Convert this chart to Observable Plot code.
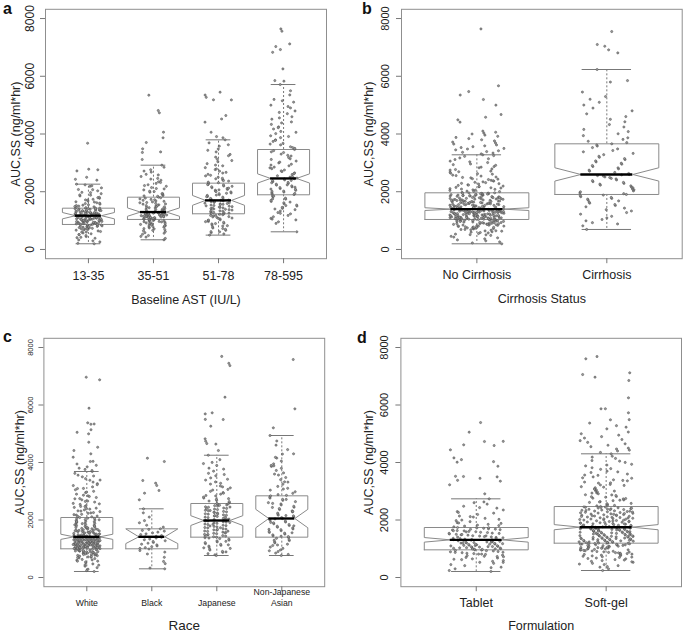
<!DOCTYPE html>
<html><head><meta charset="utf-8">
<script src="https://cdn.jsdelivr.net/npm/d3@7"></script>
<script src="https://cdn.jsdelivr.net/npm/@observablehq/plot@0.6"></script>
<style>
body{margin:0;background:#fff;}
#wrap{position:relative;width:685px;height:635px;font-family:"Liberation Sans",Arial,sans-serif;overflow:hidden;}
.panel{position:absolute;}
.tag{position:absolute;font-weight:bold;font-size:16px;line-height:16px;color:#111;}
</style></head><body><div id="wrap"></div>
<script>
// ---------- shared ----------
const yTicks = [0, 2000, 4000, 6000, 8000];
const yTitle = "AUC,SS (ng/ml*hr)";

// ---------- panel a : Baseline AST ----------
const astGroups = ["13-35", "35-51", "51-78", "78-595"];
const astQ1 = [866, 1040, 1236, 1894];
const astMed = [1170, 1295, 1700, 2460];
const astQ3 = [1430, 1811, 2297, 3463];
const astLo = [197, 335, 497, 612];
const astHi = [2262, 2920, 3798, 5714];
const astNotchLo = [1060, 1150, 1530, 2300];
const astNotchHi = [1280, 1440, 1870, 2620];
const ast13 = [197,214,262,298,331,388,421,447,482,518,543,571,598,622,641,667,688,703,714,731,746,758,772,786,799,812,824,836,846,857,866,
879,886,894,906,913,921,931,938,951,956,964,977,984,992,1001,1009,1021,1028,1036,1044,1056,1063,1074,1081,1089,1102,1108,1121,1128,1141,1149,1158,1166,
1172,1186,1193,1201,1209,1221,1228,1242,1246,1256,1263,1277,1284,1296,1303,1316,1323,1337,1344,1356,1363,1377,1384,1401,1408,1421,1430,
1446,1462,1478,1503,1522,1547,1568,1603,1618,1652,1677,1712,1738,1772,1807,1853,1888,1932,1978,2031,2077,2133,2186,2238,2262,2400,2430,2500,2720,2760,2780,3680,
408,512,603,671,734,781,818,849,873,897,918,937,957,973,994,1013,1032,1049,1068,1086,1103,1124,1139,1157,1178,1194,1212,1233,1251,1268,1288,1307,1327,1346,1368,1389,1412,1433,1488,1534,1589,1643,1716,1794,1879,1967,2071,2204];
const ast35 = [335,382,428,483,527,582,618,663,688,722,748,783,797,826,843,867,884,907,918,942,953,972,984,1002,1013,1031,
1043,1056,1064,1081,1088,1102,1109,1122,1128,1141,1149,1162,1168,1181,1189,1202,1208,1221,1229,1242,1248,1261,1269,1282,1289,
1302,1318,1342,1358,1382,1398,1422,1438,1462,1478,1502,1518,1547,1568,1597,1618,1647,1668,1702,1723,1752,1778,1811,
1842,1868,1903,1938,1983,2018,2062,2098,2143,2188,2242,2288,2343,2398,2462,2528,2603,2678,2762,2848,2920,3117,3360,3380,3487,3705,3868,4062,4734,4814,5344,
452,561,648,714,772,815,856,893,926,962,994,1027,1058,1076,1096,1114,1133,1152,1171,1194,1213,1234,1256,1277,1296,1331,1366,1409,1446,1488,1531,1577,1627,1681,1733,1791,1857,1926,2007,2111,2213,2319,2437,2581,2716];
const ast51 = [497,538,583,618,663,698,743,778,823,848,883,908,943,968,1003,1028,1063,1088,1113,1138,1163,1178,1203,1218,
1242,1258,1283,1298,1323,1338,1363,1378,1403,1418,1443,1458,1483,1498,1523,1538,1563,1578,1603,1618,1643,1658,1683,
1702,1718,1753,1778,1813,1838,1873,1898,1933,1958,1993,2018,2053,2078,2113,2138,2173,2198,2233,2258,2297,
2332,2368,2412,2448,2503,2548,2603,2648,2712,2768,2833,2898,2972,3038,3122,3198,3292,3378,3482,3578,3692,3798,3870,3910,4060,4410,4520,4640,5180,5185,5270,5350,5448,
612,724,812,897,962,1021,1079,1127,1186,1232,1271,1312,1351,1392,1433,1471,1512,1553,1591,1632,1671,1712,1766,1826,1884,1946,2007,2066,2124,2187,2246,2312,2387,2467,2569,2671,2789,2922,3081,3247,3436,3627];
const ast78 = [612,903,958,1023,1078,1133,1178,1233,1278,1333,1378,1423,1458,1503,1538,1583,1618,1663,1698,1743,1778,1823,1858,
1902,1928,1963,1988,2023,2048,2083,2108,2143,2168,2203,2228,2263,2288,2323,2348,2383,2408,2443,
2472,2508,2553,2598,2653,2698,2753,2798,2853,2898,2953,2998,3063,3118,3183,3238,3303,3358,3423,3463,
3502,3558,3623,3678,3743,3798,3873,3938,4013,4088,4173,4248,4333,4418,4513,4598,4703,4798,4903,4998,5103,5198,5353,5498,5714,5830,5850,6255,6830,6925,7030,7120,7560,7640,
1051,1252,1402,1521,1641,1752,1848,1941,2012,2092,2156,2237,2311,2392,2451,2527,2627,2721,2827,2923,3026,3141,3262,3381,3527,3651,3779,3914,4058,4218,4383,4557,4747,4952,5151];
const astSeries = [ast13, ast35, ast51, ast78];

// ---------- panel b : Cirrhosis ----------
const cirGroups = ["No Cirrhosis", "Cirrhosis"];
const cirQ1 = [1039, 1905];
const cirMed = [1397, 2597];
const cirQ3 = [1963, 3660];
const cirLo = [196, 693];
const cirHi = [3279, 6234];
const cirNotchLo = [1350, 2370];
const cirNotchHi = [1445, 2830];
const cirNo = [196,225,262,298,331,368,402,428,455,487,506,531,552,574,598,611,633,648,667,679,694,712,721,733,748,754,767,779,786,797,806,818,823,836,845,853,864,869,877,888,893,904,911,917,928,933,941,952,957,966,973,984,989,997,1005,1012,1019,1027,1033,1038,
1043,1049,1052,1061,1066,1070,1079,1083,1091,1095,1101,1109,1113,1121,1126,1131,1139,1144,1151,1155,1163,1168,1172,1181,1186,1193,1197,1204,1211,1216,1223,1227,1235,1241,1246,1253,1258,1264,1271,1275,1283,1288,1294,1301,1305,1313,1318,1325,1331,1336,1342,1349,1354,1361,1367,1372,1378,1385,1390,1396,
1405,1412,1421,1430,1438,1447,1455,1466,1474,1483,1491,1502,1510,1519,1528,1536,1547,1555,1564,1572,1583,1591,1600,1611,1619,1628,1639,1647,1656,1667,1675,1684,1695,1703,1714,1722,1733,1742,1752,1761,1770,1781,1790,1801,1810,1820,1831,1840,1851,1860,1871,1880,1891,1901,1912,1922,1932,1943,1953,1963,
1980,2004,2021,2045,2066,2083,2105,2128,2150,2171,2196,2218,2240,2266,2290,2315,2342,2368,2395,2422,2450,2481,2510,2542,2575,2607,2641,2676,2712,2750,2790,2830,2872,2915,2960,3010,3060,3115,3170,3225,3279,
3310,3340,3365,3390,3420,3450,3480,3500,3530,3560,3590,3620,3650,3690,3720,3760,3800,3840,3880,3920,3960,4000,4030,4060,4100,4410,4490,4580,4675,5000,5195,5350,5470,5670,7640,
512,587,642,691,733,772,809,841,872,897,921,946,969,993,1016,1035,1047,1058,1069,1077,1088,1097,1106,1117,1124,1136,1143,1153,1166,1177,1184,1195,1207,1214,1226,1238,1244,1256,1267,1273,1286,1292,1303,1311,1322,1334,1339,1352,1358,1369,1376,1388,1394,1407,1418,1427,1443,1452,1469,1478,1497,1506,1524,1533,1551,1566,1578,1594,1607,1623,1634,1652,1661,1679,1689,1707,1718,1737,1748,1766,1777,1796,1806,1826,1837,1856,1867,1886,1897,1917,1928,1948,1958,2013,2056,2092,2137,2181,2229,2278,2327,2381,2436,2494,2558,2624,2693,2769,2851,2937,3036,3143,3251];
const cirYes = [693,818,883,928,992,1038,1093,1148,1222,1278,1333,1378,1432,1478,1523,1558,1603,1638,1683,1708,1743,1768,1803,1828,1863,1884,1905,
1932,1958,1997,2028,2067,2098,2137,2168,2203,2228,2263,2288,2323,2348,2383,2408,2443,2462,2493,2512,2543,2558,2583,2597,
2632,2668,2713,2748,2793,2828,2873,2908,2953,2988,3033,3068,3113,3148,3193,3228,3283,3328,3383,3428,3483,3528,3583,3618,3660,
3702,3748,3813,3868,3943,4008,4083,4158,4243,4328,4423,4508,4603,4698,4803,4898,5003,5098,5203,5298,5453,5800,5850,6234,6810,6915,7040,7100,7550];
const cirSeries = [cirNo, cirYes];

// ---------- panel c : Race ----------
const raceGroups = ["White", "Black", "Japanese", "Non-Japanese\nAsian"];
const raceQ1 = [998, 998, 1403, 1403];
const raceMed = [1415, 1415, 1982, 2052];
const raceQ3 = [2087, 1693, 2574, 2841];
const raceLo = [209, 302, 765, 765];
const raceHi = [3687, 2389, 4253, 4939];
const raceNotchLo = [1325, 1180, 1810, 1730];
const raceNotchHi = [1505, 1690, 2150, 2370];
const raceWhite = [209,241,288,342,391,428,472,508,543,568,602,628,657,678,703,718,742,758,777,788,806,818,837,846,862,871,886,893,908,915,929,936,949,957,969,976,989,
1004,1013,1024,1031,1042,1049,1061,1067,1078,1085,1096,1103,1114,1121,1132,1139,1151,1157,1168,1175,1186,1193,1204,1211,1222,1229,1241,1249,1261,1269,1281,1289,1301,1309,1321,1329,1341,1349,1361,1369,1381,1389,1401,1409,
1426,1438,1456,1468,1486,1498,1516,1528,1546,1558,1576,1588,1606,1618,1636,1648,1666,1678,1696,1708,1726,1738,1762,1778,1802,1818,1842,1858,1882,1898,1922,1938,1962,1978,2002,2018,2042,2058,2087,
2112,2138,2172,2198,2232,2258,2292,2318,2352,2378,2412,2438,2472,2498,2542,2578,2622,2658,2702,2738,2782,2818,2862,2898,2952,2998,3052,3098,3152,3198,3262,3318,3382,3438,3502,3558,3622,3687,
3722,3758,3802,3848,3902,3948,4034,4040,4184,4302,4417,4530,4705,4997,5050,5140,5330,5340,5380,5888,6876,6966,
433,567,612,694,731,768,798,827,851,877,899,921,943,962,982,1008,1018,1027,1036,1045,1055,1064,1073,1082,1091,1100,1109,1118,1127,1136,1145,1154,1163,1172,1181,1190,1199,1208,1217,1226,1235,1246,1256,1266,1276,1286,1296,1306,1316,1326,1336,1346,1356,1366,1376,1386,1396,1412,1431,1447,1462,1481,1493,1512,1534,1551,1569,1583,1602,1627,1641,1659,1688,1716,1747,1789,1831,1873,1917,1956,2008,2061,2126,2186,2247,2312,2391,2467,2561,2647,2744,2843,2972,3094,3228,3389,3531];
const raceBlack = [302,331,482,558,703,818,883,938,992,1012,1038,1072,1098,1133,1158,1192,1218,1253,1278,1312,1338,1372,1398,1415,1432,1458,1492,1518,1552,1578,1612,1638,1672,1693,1752,1818,1903,1978,2102,2248,2389,2702,2932,3026,3200,3280,3374,4034,4149];
const raceJapan = [765,792,828,873,908,953,988,1032,1058,1093,1118,1153,1178,1213,1238,1273,1298,1333,1353,1382,
1403,1418,1443,1458,1483,1498,1523,1538,1563,1578,1603,1618,1643,1658,1683,1698,1723,1738,1763,1778,1803,1818,1843,1858,1883,1898,1923,1938,1963,1982,
2002,2018,2043,2058,2083,2098,2123,2138,2163,2178,2203,2218,2243,2258,2283,2298,2323,2338,2363,2378,2403,2418,2443,2458,2483,2498,2523,2543,2574,
2603,2638,2683,2718,2763,2798,2853,2898,2953,2998,3063,3118,3183,3248,3323,3388,3463,3538,3623,3698,3803,3898,4003,4098,4253,4417,4640,4660,4740,4824,5262,5495,5500,5690,5728,6271,7370,7450,7690,
891,1011,1136,1257,1372,1432,1491,1552,1611,1672,1731,1792,1851,1912,1971,2031,2091,2152,2211,2271,2331,2391,2451,2512,2562,2661,2742,2836,2931,3041,3152,3277,3417,3583,3769,3962];
const raceNJAsian = [765,803,848,903,958,1013,1058,1113,1158,1203,1238,1283,1318,1363,1388,
1423,1448,1483,1508,1543,1568,1603,1628,1663,1688,1723,1748,1783,1808,1843,1868,1903,1928,1963,1988,2023,2052,
2083,2108,2143,2168,2203,2238,2283,2318,2363,2398,2443,2478,2523,2558,2603,2638,2683,2718,2763,2798,2841,
2883,2928,2983,3038,3103,3168,3243,3318,3403,3478,3563,3638,3723,3798,3863,3898,3953,4048,4153,4180,4302,4448,4603,4748,4939,5206,5866,7582,
930,1131,1297,1437,1556,1676,1797,1917,2037,2156,2296,2436,2577,2716,2857,3076,3327,3596,3884,4293];
const raceSeries = [raceWhite, raceBlack, raceJapan, raceNJAsian];

// ---------- panel d : Formulation ----------
const formGroups = ["Tablet", "Soft-gel"];
const formQ1 = [962, 1194];
const formMed = [1310, 1750];
const formQ3 = [1739, 2469];
const formLo = [209, 243];
const formHi = [2736, 4302];
const formNotchLo = [1230, 1660];
const formNotchHi = [1390, 1840];
const formTablet = [209,243,302,358,412,448,492,528,562,588,622,648,677,698,722,738,762,778,802,813,832,843,862,873,892,903,922,933,952,
963,977,984,997,1003,1017,1024,1037,1043,1057,1064,1077,1083,1097,1104,1117,1123,1137,1144,1157,1163,1177,1184,1197,1203,1217,1224,1237,1243,1257,1264,1277,1283,1297,1310,
1322,1333,1352,1363,1382,1393,1412,1423,1442,1453,1472,1483,1502,1513,1532,1543,1562,1573,1592,1603,1622,1633,1652,1663,1682,1693,1712,1723,1739,
1762,1788,1822,1848,1882,1908,1942,1978,2022,2058,2102,2138,2192,2238,2292,2348,2412,2478,2552,2628,2736,2910,3225,3350,3380,3450,3500,3513,3520,3870,4010,4030,4100,4160,4440,4590,4615,4730,4735,5054,5390,
341,526,634,731,812,878,941,991,1031,1072,1112,1151,1191,1232,1271,1317,1361,1407,1448,1497,1537,1587,1627,1677,1731,1806,1897,1997,2117,2263,2431,2601];
const formSoftgel = [243,302,358,412,448,492,528,562,588,622,648,677,698,722,738,762,778,802,813,832,843,862,873,892,903,922,933,952,963,976,987,998,1012,1021,1036,1044,1058,1071,1083,1092,1107,1116,1131,1139,1152,1161,1172,1181,1189,
1201,1209,1222,1228,1241,1249,1262,1268,1281,1289,1302,1308,1321,1329,1342,1348,1361,1369,1382,1388,1401,1409,1422,1428,1441,1449,1462,1468,1481,1489,1502,1508,1521,1529,1542,1548,1561,1569,1582,1588,1601,1609,1622,1628,1641,1649,1662,1668,1681,1689,1702,1708,1721,1729,1742,1750,
1764,1774,1791,1801,1817,1826,1843,1852,1869,1878,1895,1904,1921,1930,1947,1956,1973,1982,1999,2008,2025,2034,2051,2060,2077,2086,2103,2112,2129,2138,2155,2164,2181,2190,2207,2216,2233,2242,2259,2268,2285,2294,2311,2320,2337,2346,2363,2372,2389,2398,2415,2424,2441,2450,2469,
2492,2518,2553,2578,2612,2638,2672,2698,2733,2758,2792,2818,2853,2878,2912,2943,2982,3013,3052,3083,3122,3158,3202,3238,3282,3318,3362,3398,3452,3498,3553,3598,3652,3698,3762,3818,3882,3938,4002,4068,4142,4218,4302,
4350,4400,4430,4470,4500,4550,4600,4650,4700,4760,4800,4850,4900,4950,5000,5060,5170,5228,5280,5370,5485,5490,5729,5868,5870,6250,6852,6967,7060,7120,7607,7686,
381,467,547,607,661,709,751,792,827,858,884,912,941,968,993,1016,1039,1061,1087,1112,1136,1158,1176,1198,1216,1236,1254,1275,1293,1314,1333,1354,1372,1393,1414,1433,1454,1473,1494,1513,1534,1553,1574,1593,1614,1633,1654,1673,1694,1713,1734,1758,1784,1812,1836,1862,1888,1913,1938,1966,1992,2018,2043,2068,2096,2121,2147,2172,2199,2225,2251,2278,2305,2331,2356,2383,2408,2433,2457,2506,2566,2626,2688,2747,2809,2871,2936,3006,3071,3142,3218,3293,3376,3467,3563,3673,3786,3911,4047,4186];
const formSeries = [formTablet, formSoftgel];

// ---------- drawing ----------
const FONT = '"Liberation Sans", Arial, sans-serif';
function frac(v) { return v - Math.floor(v); }
// deterministic horizontal jitter (±0.21 of a category step), derived from value and index
function jitter(v, k) { return (frac(v * 0.7548776662 + k * 0.5698402910) - 0.5) * 0.42; }

function panel(c) {
  const n = c.groups.length;
  const ext = 0.04 * n;
  const stats = c.groups.map((g, i) => ({
    x: i + 1, q1: c.q1[i], med: c.med[i], q3: c.q3[i], lo: c.lo[i], hi: c.hi[i], nlo: c.nlo[i], nhi: c.nhi[i]
  }));
  const w = 0.4, nf = 0.5, st = 0.19;
  const verts = [];
  stats.forEach((s, i) => {
    const x = s.x;
    [[x - w, s.q1], [x - w, s.nlo], [x - w * nf, s.med], [x - w, s.nhi], [x - w, s.q3],
     [x + w, s.q3], [x + w, s.nhi], [x + w * nf, s.med], [x + w, s.nlo], [x + w, s.q1], [x - w, s.q1]]
      .forEach(([px, py]) => verts.push({g: i, px, py}));
  });
  const pts = [];
  c.series.forEach((arr, i) => {
    arr.forEach((v, k) => pts.push({x: i + 1 + jitter(v, k), y: v}));
  });
  const xs = stats.map(s => s.x);
  return Plot.plot({
    width: c.width, height: c.height,
    marginLeft: c.mL, marginRight: c.mR, marginTop: c.mT, marginBottom: c.mB,
    x: {domain: [0.5 - ext, n + 0.5 + ext], axis: null},
    y: {domain: [-320, 8320], axis: null},
    style: {fontFamily: FONT, background: "transparent", overflow: "visible", color: "#222"},
    marks: [
      Plot.frame({stroke: "#8f8f8f", strokeWidth: 1}),
      Plot.axisX({ticks: xs, anchor: "bottom", tickSize: 5, tickFormat: () => "", stroke: "#777", label: null}),
      Plot.axisY({ticks: yTicks, anchor: "left", tickSize: 5, tickFormat: () => "", stroke: "#777", label: null}),
      Plot.ruleX(stats, {x: "x", y1: "q3", y2: "hi", stroke: "#555", strokeWidth: 0.8, strokeDasharray: "2,2"}),
      Plot.ruleX(stats, {x: "x", y1: "q1", y2: "lo", stroke: "#555", strokeWidth: 0.8, strokeDasharray: "2,2"}),
      Plot.ruleY(stats, {y: "hi", x1: d => d.x - st, x2: d => d.x + st, stroke: "#777", strokeWidth: 1}),
      Plot.ruleY(stats, {y: "lo", x1: d => d.x - st, x2: d => d.x + st, stroke: "#777", strokeWidth: 1}),
      Plot.line(verts, {x: "px", y: "py", z: "g", stroke: "#8a8a8a", strokeWidth: 1}),
      Plot.dot(pts, {x: "x", y: "y", r: 1.1, fill: "#9a9a9a", stroke: "#444", strokeWidth: 0.5}),
      Plot.ruleY(stats, {y: "med", x1: d => d.x - w * nf, x2: d => d.x + w * nf, stroke: "#000", strokeWidth: 2.4}),
      Plot.text(yTicks, {y: d => d, text: d => String(d), frameAnchor: "left", textAnchor: "middle", lineAnchor: "middle", dx: c.yLabDx, rotate: -90, fontSize: c.yFs, fill: "#222"}),
      Plot.text([yTitle], {frameAnchor: "left", textAnchor: "middle", lineAnchor: "middle", dx: c.yTitleDx, rotate: -90, fontSize: 12.5, fill: "#222"}),
      Plot.text(c.groups, {x: (d, i) => i + 1, text: d => d, frameAnchor: "bottom", dy: c.xLabDy, fontSize: c.xFs, lineAnchor: c.xLineAnchor, lineHeight: 1.26, fill: "#222"}),
      Plot.text([c.xTitle], {frameAnchor: "bottom", lineAnchor: "middle", dy: c.xTitleDy, fontSize: c.xTitleFs, fill: "#222"})
    ]
  });
}

const wrap = document.getElementById("wrap");
function place(node, left, top) {
  node.classList.add("panel");
  node.style.left = left + "px";
  node.style.top = top + "px";
  wrap.appendChild(node);
}
function tag(t, left, top) {
  const d = document.createElement("div");
  d.className = "tag"; d.textContent = t;
  d.style.left = left + "px"; d.style.top = top + "px";
  wrap.appendChild(d);
}

place(panel({groups: astGroups, series: astSeries, q1: astQ1, med: astMed, q3: astQ3, lo: astLo, hi: astHi, nlo: astNotchLo, nhi: astNotchHi,
  xTitle: "Baseline AST (IU/L)", width: 342, height: 317, mL: 45, mR: 16, mT: 8.8, mB: 58.8,
  yLabDx: -15, yFs: 12, yTitleDx: -29.5, xLabDy: 15.8, xFs: 12.5, xLineAnchor: "middle", xTitleDy: 40.8, xTitleFs: 12.5}), 0, 0);
place(panel({groups: cirGroups, series: cirSeries, q1: cirQ1, med: cirMed, q3: cirQ3, lo: cirLo, hi: cirHi, nlo: cirNotchLo, nhi: cirNotchHi,
  xTitle: "Cirrhosis Status", width: 343, height: 317, mL: 59, mR: 3.3, mT: 8.8, mB: 58.8,
  yLabDx: -16, yFs: 11, yTitleDx: -33, xLabDy: 14.8, xFs: 12.5, xLineAnchor: "middle", xTitleDy: 39.8, xTitleFs: 12.5}), 342, 0);
place(panel({groups: raceGroups, series: raceSeries, q1: raceQ1, med: raceMed, q3: raceQ3, lo: raceLo, hi: raceHi, nlo: raceNotchLo, nhi: raceNotchHi,
  xTitle: "Race", width: 342, height: 318, mL: 43.4, mR: 17.8, mT: 20.8, mB: 48.8,
  yLabDx: -13, yFs: 7.5, yTitleDx: -24.4, xLabDy: 19.6, xFs: 8.7, xLineAnchor: "bottom", xTitleDy: 38.8, xTitleFs: 13.5}), 0, 317);
place(panel({groups: formGroups, series: formSeries, q1: formQ1, med: formMed, q3: formQ3, lo: formLo, hi: formHi, nlo: formNotchLo, nhi: formNotchHi,
  xTitle: "Formulation", width: 343, height: 318, mL: 58.4, mR: 4, mT: 20.8, mB: 48.8,
  yLabDx: -16.4, yFs: 11, yTitleDx: -32.4, xLabDy: 14.8, xFs: 12.5, xLineAnchor: "middle", xTitleDy: 38.8, xTitleFs: 12.5}), 342, 317);

tag("a", 3, 0.5);
tag("b", 362, 0.5);
tag("c", 3, 328.7);
tag("d", 357, 329.7);
</script>
</body></html>
